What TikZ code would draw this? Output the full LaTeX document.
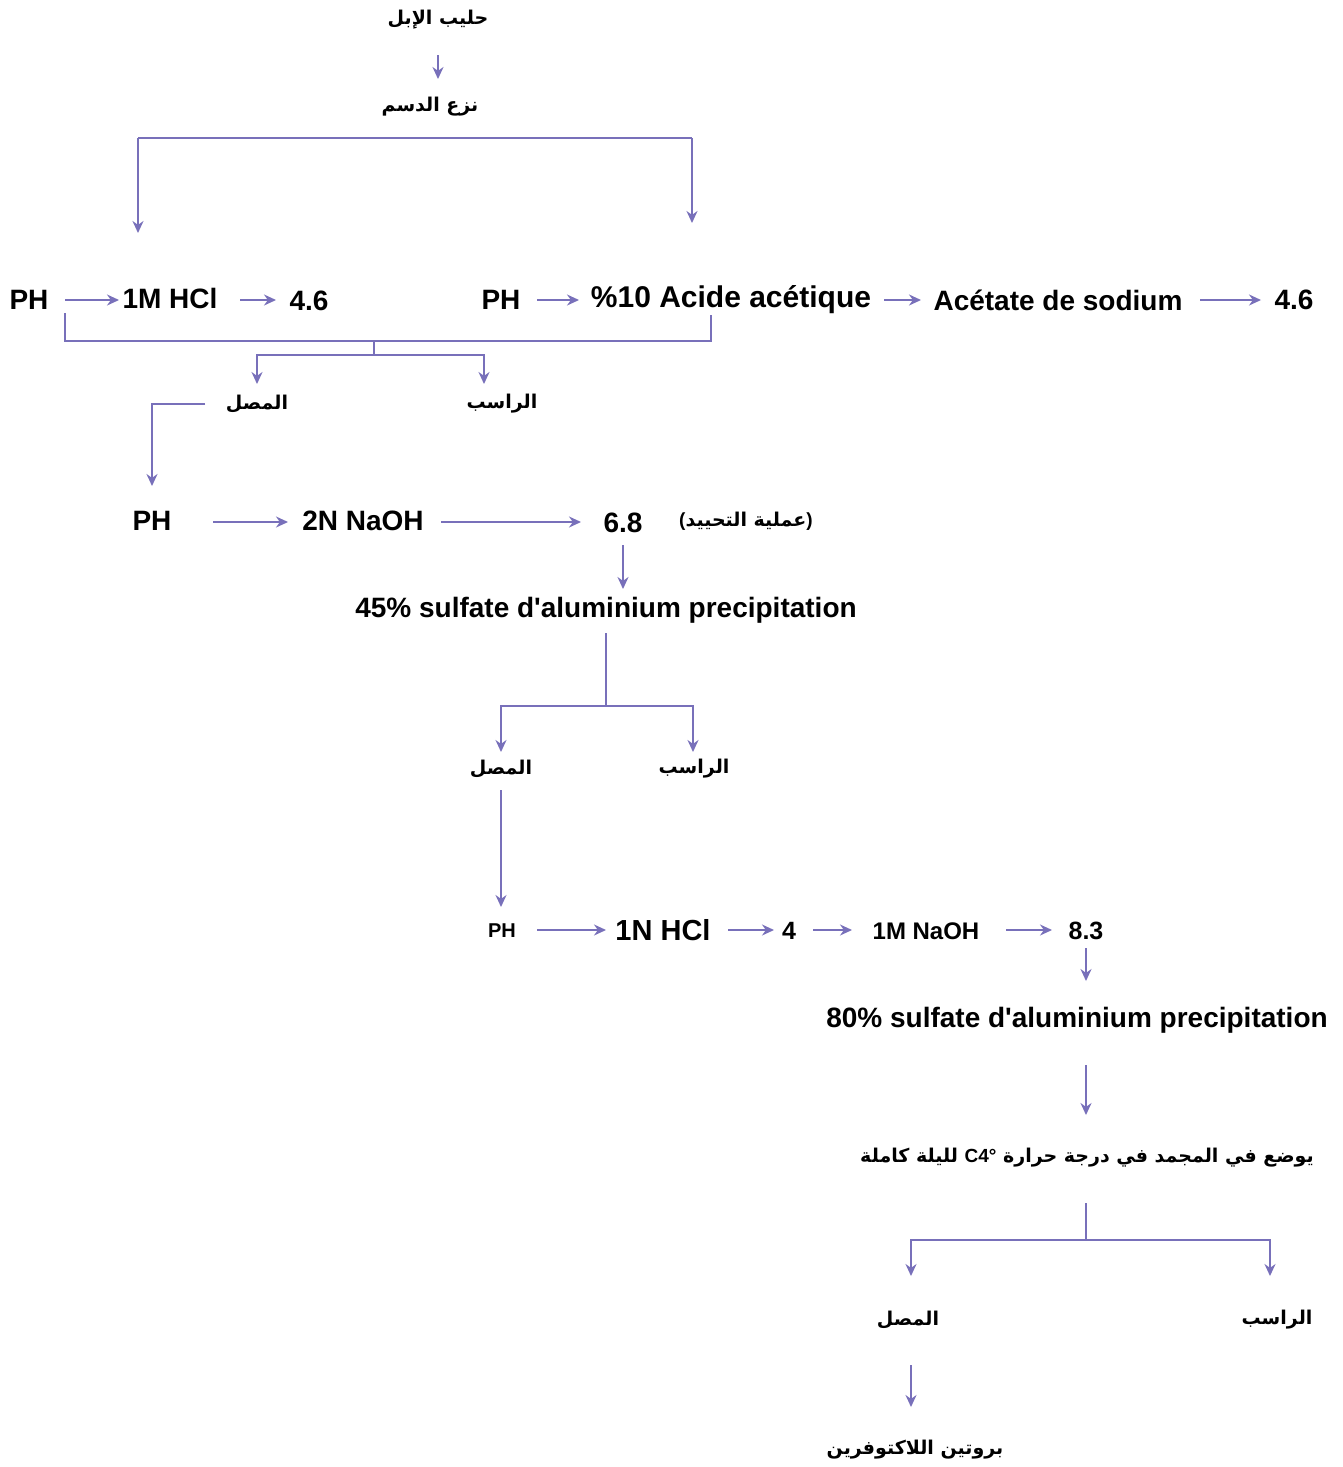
\documentclass[tikz,border=0pt]{standalone}
\usepackage{fontspec}
\setmainfont{Liberation Sans}
\newfontfamily\arfont[Script=Arabic]{DejaVu Sans}
\newfontfamily\latfont{Liberation Sans}
\TeXXeTstate=1
\usetikzlibrary{arrows.meta}
\definecolor{linec}{RGB}{120,112,186}
\tikzset{
  lat/.style={font=\bfseries\fontsize{28}{31}\selectfont, inner sep=0pt},
  ara/.style={font=\arfont\bfseries\fontsize{19}{23}\selectfont, inner sep=0pt},
  conn/.style={draw=linec, line width=1.6pt},
  arr/.style={conn, -{Stealth[length=12pt,width=11pt]}},
}
\begin{document}
\begin{tikzpicture}[x=1pt,y=-1pt]
\useasboundingbox[fill=white] (0,0) rectangle (1342,1467);

% top
\node[ara] (milk) at (438,20) {\beginR حليب الإبل\endR};
\node[ara] (skim) at (430,107) {\beginR نزع الدسم\endR};
\draw[arr] (438,55) -- (438,79);

\coordinate (ta) at (138,138);
\coordinate (tb) at (692,138);
\coordinate (ea) at (138,233);
\coordinate (eb) at (692,223);
\draw[conn] (ta) -- (tb);
\draw[arr] (ta) -- (ea);
\draw[arr] (tb) -- (eb);

% row 1
\node[lat] (ph1) at (29,300) {PH};
\node[lat] (hcl1) at (170,298) {1M HCl};
\node[lat] (v1) at (309,301) {4.6};
\node[lat] (ph2) at (501,300) {PH};
\node[lat, font=\bfseries\fontsize{30}{33}\selectfont] (aa) at (731,300) {\%10 Acide acétique};
\node[lat] (as) at (1058,300) {Acétate de sodium};
\node[lat] (v2) at (1294,300) {4.6};
\draw[arr] (65,300) -- (119,300);
\draw[arr] (240,300) -- (276,300);
\draw[arr] (537,300) -- (579,300);
\draw[arr] (884,300) -- (921,300);
\draw[arr] (1200,300) -- (1261,300);

% collecting bracket
\coordinate (ca) at (65,313);
\coordinate (cb) at (711,315);
\coordinate (cm) at (374,341);
\coordinate (cs) at (374,355);
\draw[conn] (ca) |- (cm) -| (cb);
\draw[conn] (cm) -- (cs);
\node[ara] (ser1) at (257,404) {\beginR المصل\endR};
\node[ara] (pre1) at (502,404) {\beginR الراسب\endR};
\draw[arr] (cs) -| (257,384);
\draw[arr] (cs) -| (484,384);

% row 2
\node[lat] (ph3) at (152,521) {PH};
\node[lat] (naoh1) at (363,521) {2N NaOH};
\node[lat] (v3) at (623,523) {6.8};
\node[ara] (neut) at (746,521) {{\latfont\bfseries(}\beginR عملية التحييد\endR{\latfont\bfseries)}};
\coordinate (se1) at (205,404);
\draw[arr] (se1) -| (152,486);
\draw[arr] (213,522) -- (288,522);
\draw[arr] (441,522) -- (581,522);

\node[lat] (s45) at (606,610) {45\% sulfate d\textquotesingle aluminium precipitation};
\draw[arr] (623,545) -- (623,589);

\coordinate (b2t) at (606,633);
\coordinate (b2m) at (606,706);
\draw[conn] (b2t) -- (b2m);
\draw[arr] (b2m) -| (501,752);
\draw[arr] (b2m) -| (693,752);
\node[ara] (ser2) at (501,769) {\beginR المصل\endR};
\node[ara] (pre2) at (694,769) {\beginR الراسب\endR};
\draw[arr] (501,790) -- (501,907);

% row 4
\node[lat, font=\bfseries\fontsize{20}{24}\selectfont] (ph4) at (502,931) {PH};
\node[lat, font=\bfseries\fontsize{29}{32}\selectfont] (hcl2) at (663,930) {1N HCl};
\node[lat, font=\bfseries\fontsize{25}{28}\selectfont] (v4) at (789,931) {4};
\node[lat, font=\bfseries\fontsize{24}{28}\selectfont] (naoh2) at (926,931) {1M NaOH};
\node[lat, font=\bfseries\fontsize{25}{28}\selectfont] (v5) at (1086,931) {8.3};
\draw[arr] (537,930) -- (606,930);
\draw[arr] (728,930) -- (774,930);
\draw[arr] (813,930) -- (852,930);
\draw[arr] (1006,930) -- (1052,930);

\draw[arr] (1086,948) -- (1086,981);
\node[lat] (s80) at (1077,1020) {80\% sulfate d\textquotesingle aluminium precipitation};
\draw[arr] (1086,1065) -- (1086,1115);
\node[ara] (frz) at (1087,1158) {\beginR يوضع في المجمد في درجة حرارة \beginL{\latfont\bfseries C4°}\endL{} لليلة كاملة\endR};

\coordinate (b3t) at (1086,1203);
\coordinate (b3m) at (1086,1240);
\draw[conn] (b3t) -- (b3m);
\draw[arr] (b3m) -| (911,1276);
\draw[arr] (b3m) -| (1270,1276);
\node[ara] (ser3) at (908,1320) {\beginR المصل\endR};
\node[ara] (pre3) at (1277,1320) {\beginR الراسب\endR};
\draw[arr] (911,1365) -- (911,1407);
\node[ara] (lacto) at (915,1450) {\beginR بروتين اللاكتوفرين\endR};
\end{tikzpicture}
\end{document}
